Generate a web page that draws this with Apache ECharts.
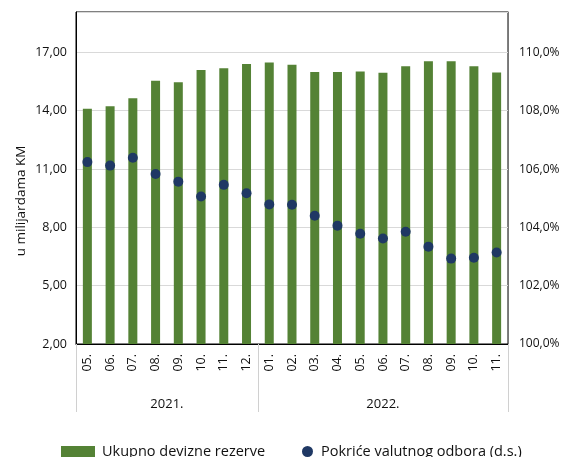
<!DOCTYPE html>
<html>
<head>
<meta charset="utf-8">
<script src="https://cdn.jsdelivr.net/npm/echarts@6/dist/echarts.min.js"></script>
<style>html,body{margin:0;padding:0;background:#fff}#c{width:563px;height:457px}</style>
</head>
<body>
<div id="c"></div>
<script>
const months = ['05.','06.','07.','08.','09.','10.','11.','12.','01.','02.','03.','04.','05.','06.','07.','08.','09.','10.','11.'];
const years = ['2021.','2022.'];
const reserves = [14.10,14.23,14.64,15.54,15.46,16.09,16.18,16.40,16.48,16.37,15.99,15.99,16.02,15.95,16.29,16.55,16.55,16.29,15.97];
const coverage = [106.24,106.12,106.39,105.83,105.57,105.06,105.46,105.17,104.79,104.78,104.40,104.06,103.78,103.62,103.85,103.34,102.93,102.96,103.14];
const leftTicks = {min:2, max:19.08, interval:3};
const rightTicks = {min:100, max:111.39, interval:2};

const FONT = 'Open Sans';
const chart = echarts.init(document.getElementById('c'));
chart.setOption({
  animation:false,
  textStyle:{fontFamily:FONT},
  grid:{left:76,right:55,top:12,bottom:113,show:true,borderColor:'#000',borderWidth:1},
  graphic:[{type:'text',x:21,y:201,rotation:Math.PI/2,style:{text:'u milijardama KM',font:'13.5px "Open Sans"',fill:'#111',align:'center',verticalAlign:'middle'}}],
  legend:[
    {data:['Ukupno devizne rezerve'],left:56,top:439,itemWidth:34,itemHeight:11,icon:'rect',itemGap:0,
     textStyle:{fontSize:14.5,color:'#111',padding:[0,0,0,2]}},
    {data:['Pokriće valutnog odbora (d.s.)'],left:297,top:439,itemWidth:11,itemHeight:11,icon:'circle',
     textStyle:{fontSize:14.5,color:'#111',padding:[0,0,0,3]}}
  ],
  xAxis:[
    {type:'category',data:months,boundaryGap:true,
     axisLine:{lineStyle:{color:'#000',width:1}},axisTick:{show:false},
     axisLabel:{rotate:90,fontSize:12.5,color:'#111',margin:10,interval:0}},
    {type:'value',min:0,max:19,position:'bottom',offset:68,
     axisLine:{show:false},splitLine:{show:false},
     axisTick:{show:true,inside:true,length:68,customValues:[0,8,19],lineStyle:{color:'#d0d0d0'}},
     axisLabel:{inside:true,margin:1,customValues:[4,13.5],fontSize:13,color:'#111',
       formatter:v=>v<8?years[0]:years[1]}}
  ],
  yAxis:[
    {type:'value',min:leftTicks.min,max:leftTicks.max,interval:leftTicks.interval,
     axisLine:{show:true,lineStyle:{color:'#000'}},axisTick:{show:false},
     splitLine:{lineStyle:{color:'#d9d9d9'}},
     axisLabel:{showMaxLabel:false,fontSize:12.5,color:'#111',margin:9,formatter:v=>v.toFixed(2).replace('.',',')}},
    {type:'value',min:rightTicks.min,max:rightTicks.max,interval:rightTicks.interval,position:'right',
     axisLine:{show:true,lineStyle:{color:'#767676'}},axisTick:{show:false},splitLine:{show:false},
     axisLabel:{showMaxLabel:false,fontSize:12,color:'#111',margin:11,formatter:v=>v.toFixed(1).replace('.',',')+'%'}}
  ],
  series:[
    {name:'Ukupno devizne rezerve',type:'bar',data:reserves,barWidth:9,itemStyle:{color:'#548235'},xAxisIndex:0,yAxisIndex:0},
    {name:'Pokriće valutnog odbora (d.s.)',type:'scatter',data:coverage,symbolSize:10,itemStyle:{color:'#1f3864',opacity:1},xAxisIndex:0,yAxisIndex:1,z:5}
  ]
});
</script>
</body>
</html>
